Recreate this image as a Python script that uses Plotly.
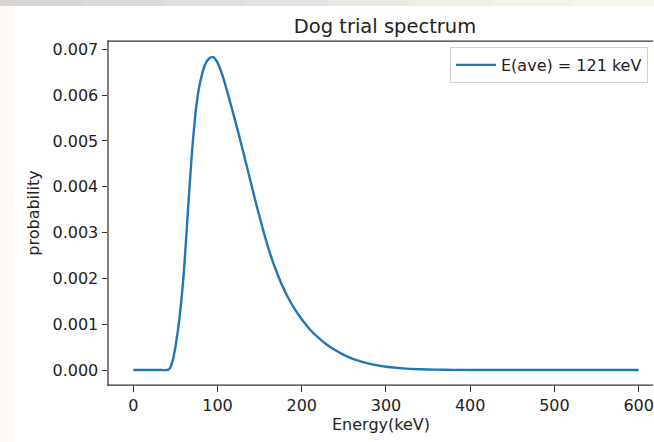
import plotly.graph_objects as go

# ---- data ----
energy_kev = [0, 10, 20, 30, 40, 42.5, 45, 47.5, 50, 52.5, 55, 57.5, 60, 62.5, 65, 67.5, 70,
              72.5, 75, 77.5, 80, 85, 90, 95, 100, 105, 110, 115, 120, 125, 130, 135, 140,
              145, 150, 155, 160, 165, 170, 175, 180, 185, 190, 195, 200, 210, 220, 230,
              240, 250, 260, 270, 280, 290, 300, 320, 340, 360, 380, 400, 450, 500, 550, 600]
probability = [0, 0, 0, 0, 0, 0.00002, 0.00010, 0.00026, 0.00050, 0.00080, 0.00115, 0.00160,
               0.00212, 0.00280, 0.00350, 0.00418, 0.00482, 0.00535, 0.00578, 0.00610, 0.00633,
               0.00666, 0.00680, 0.00683, 0.00671, 0.00648, 0.00618, 0.00585, 0.00551, 0.00516,
               0.00480, 0.00443, 0.00406, 0.00369, 0.00334, 0.00300, 0.00268, 0.00240, 0.00215,
               0.00192, 0.00172, 0.00154, 0.00138, 0.00124, 0.00111, 0.00088, 0.00070, 0.00055,
               0.00043, 0.00033, 0.00025, 0.00019, 0.00014, 0.00010, 0.00007, 0.000035,
               0.000017, 0.000008, 0.000004, 0.000002, 0.000001, 0, 0, 0]
series_name = "E(ave) = 121 keV"
x_ticks = [0, 100, 200, 300, 400, 500, 600]
y_ticks = [0.000, 0.001, 0.002, 0.003, 0.004, 0.005, 0.006, 0.007]
y_tick_labels = ["0.000", "0.001", "0.002", "0.003", "0.004", "0.005", "0.006", "0.007"]

# ---- layout geometry ----
W, H = 654, 442
L, R, T, B = 108, 654, 41, 385
FONT = "DejaVu Sans"
TXT = "#222222"
AX = "#333333"


def px_x(px):
    return (px - L) / (R - L)


def px_y(py):
    return (B - py) / (B - T)


fig = go.Figure()
fig.add_trace(go.Scatter(
    x=energy_kev, y=probability, mode="lines", name=series_name,
    line=dict(color="#1f77b4", width=2.4, shape="spline", smoothing=0.6),
))

shapes = []
# screenshot backdrop: white page on a cream/grey border
shapes.append(dict(type="rect", xref="paper", yref="paper", layer="below",
                   x0=px_x(14), x1=1, y0=px_y(6), y1=px_y(H + 2),
                   fillcolor="white", line=dict(width=0)))
top_cols = ["#d6d5d3", "#dad9d6", "#dfdeda", "#e5e3df", "#ebe8e3", "#f0ede7", "#f4f0ea", "#f7f3ed"]
seg = W / len(top_cols)
for i, c in enumerate(top_cols):
    shapes.append(dict(type="rect", xref="paper", yref="paper", layer="below",
                       x0=px_x(i * seg), x1=min(1, px_x((i + 1) * seg + 1)), y0=px_y(0), y1=px_y(6),
                       fillcolor=c, line=dict(width=0)))
# spines (the right spine lies outside the cropped picture)
spine = dict(color=AX, width=1.25)
shapes.append(dict(type="line", xref="paper", yref="paper", layer="above",
                   x0=px_x(L - 0.6), x1=px_x(W - 1), y0=1, y1=1, line=spine))
shapes.append(dict(type="line", xref="paper", yref="paper", layer="above",
                   x0=px_x(L - 0.6), x1=px_x(W - 1), y0=0, y1=0, line=spine))
shapes.append(dict(type="line", xref="paper", yref="paper", layer="above",
                   x0=0, x1=0, y0=px_y(B + 0.6), y1=px_y(T - 0.6), line=spine))

fig.update_layout(
    width=W, height=H,
    margin=dict(l=L, r=W - R, t=T, b=H - B, pad=0),
    paper_bgcolor="#fcf8f2",
    plot_bgcolor="white",
    font=dict(family=FONT, size=16, color=TXT),
    shapes=shapes,
    title=dict(text="Dog trial spectrum", font=dict(family=FONT, size=19.5, color=TXT),
               xref="container", yref="container", x=385 / W, xanchor="center",
               y=1 - 26 / H, yanchor="middle"),
    showlegend=True,
    legend=dict(x=px_x(450), y=px_y(47), xanchor="left", yanchor="top",
                itemwidth=40,
                bgcolor="rgba(255,255,255,0.8)", bordercolor="#d0d0d0", borderwidth=1,
                font=dict(family=FONT, size=16, color=TXT)),
    xaxis=dict(range=[-30, (R - 133.3) / 0.8423], tickvals=x_ticks,
               ticks="outside", ticklen=5.5, tickwidth=1.25, tickcolor=AX,
               showline=False, showgrid=False, zeroline=False,
               title=dict(text="Energy(keV)", font=dict(family=FONT, size=16, color=TXT), standoff=4)),
    yaxis=dict(range=[-0.000327, 0.007182], tickvals=y_ticks, ticktext=y_tick_labels,
               ticks="outside", ticklen=5.5, tickwidth=1.25, tickcolor=AX,
               showline=False, showgrid=False, zeroline=False,
               title=dict(text="probability", font=dict(family=FONT, size=16, color=TXT), standoff=8)),
)

fig.write_html("out.html")
